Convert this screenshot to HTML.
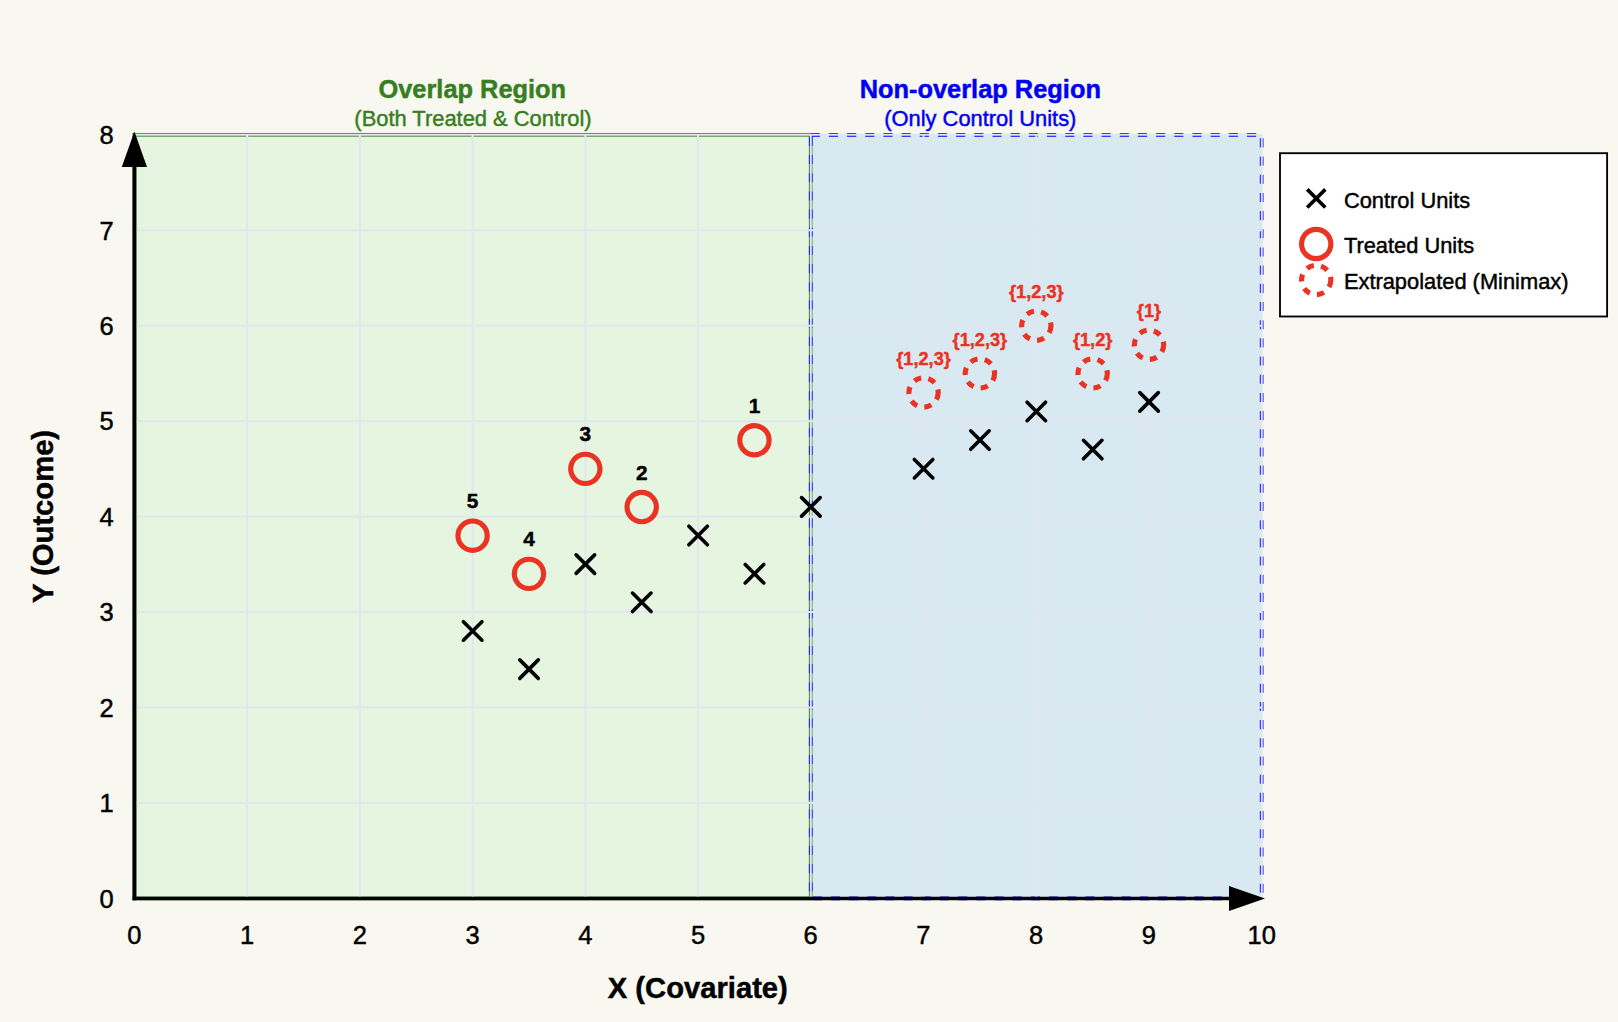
<!DOCTYPE html>
<html lang="en">
<head>
<meta charset="utf-8">
<title>Overlap and Non-overlap Regions</title>
<style>
html,body{margin:0;padding:0;background:#F8F7F0;}
body{width:1618px;height:1022px;overflow:hidden;}
svg{display:block;}
text{fill:currentColor;stroke:currentColor;stroke-width:0.45px;font-family:"Liberation Sans",Arial,Helvetica,sans-serif;}
.b{font-weight:bold;}
</style>
</head>
<body>
<svg width="1618" height="1022" viewBox="0 0 1618 1022">
<rect x="0" y="0" width="1618" height="1022" fill="#F8F7F0"/>
<rect x="134.3" y="134.8" width="676.41" height="763.6" fill="#E6F5E0" stroke="#377E22" stroke-width="3.65"/>
<rect x="810.71" y="134.8" width="450.94" height="763.6" fill="rgba(147,203,244,0.30)" stroke="#0000F5" stroke-width="3.65" stroke-dasharray="9.09 9.09"/>
<g stroke="#E2E6F0" stroke-width="2.0">
<line x1="134.4" y1="134.8" x2="134.4" y2="898.4"/>
<line x1="247.14" y1="134.8" x2="247.14" y2="898.4"/>
<line x1="359.87" y1="134.8" x2="359.87" y2="898.4"/>
<line x1="472.6" y1="134.8" x2="472.6" y2="898.4"/>
<line x1="585.34" y1="134.8" x2="585.34" y2="898.4"/>
<line x1="698.07" y1="134.8" x2="698.07" y2="898.4"/>
<line x1="810.81" y1="134.8" x2="810.81" y2="898.4"/>
<line x1="923.54" y1="134.8" x2="923.54" y2="898.4"/>
<line x1="1036.28" y1="134.8" x2="1036.28" y2="898.4"/>
<line x1="1149.01" y1="134.8" x2="1149.01" y2="898.4"/>
<line x1="1261.75" y1="134.8" x2="1261.75" y2="898.4"/>
<line x1="134.3" y1="898.4" x2="1261.65" y2="898.4"/>
<line x1="134.3" y1="802.95" x2="1261.65" y2="802.95"/>
<line x1="134.3" y1="707.5" x2="1261.65" y2="707.5"/>
<line x1="134.3" y1="612.05" x2="1261.65" y2="612.05"/>
<line x1="134.3" y1="516.6" x2="1261.65" y2="516.6"/>
<line x1="134.3" y1="421.15" x2="1261.65" y2="421.15"/>
<line x1="134.3" y1="325.7" x2="1261.65" y2="325.7"/>
<line x1="134.3" y1="230.25" x2="1261.65" y2="230.25"/>
<line x1="134.3" y1="134.8" x2="1261.65" y2="134.8"/>
</g>
<g stroke="#000" fill="none">
<line x1="134.5" y1="900.15" x2="134.5" y2="160" stroke-width="3.8"/>
<line x1="132.6" y1="898.5" x2="1232" y2="898.5" stroke-width="3.3"/>
</g>
<polygon points="134.4,131.6 121.80000000000001,166.9 147.0,166.9" fill="#000"/>
<polygon points="1265,898.4 1229,885.9 1229,911.1" fill="#000"/>
<g font-size="25.5" color="#000">
<g text-anchor="middle">
<text x="134.3" y="943.7">0</text>
<text x="247.04" y="943.7">1</text>
<text x="359.77" y="943.7">2</text>
<text x="472.5" y="943.7">3</text>
<text x="585.24" y="943.7">4</text>
<text x="697.97" y="943.7">5</text>
<text x="810.71" y="943.7">6</text>
<text x="923.44" y="943.7">7</text>
<text x="1036.18" y="943.7">8</text>
<text x="1148.91" y="943.7">9</text>
<text x="1261.65" y="943.7">10</text>
</g>
<g text-anchor="end">
<text x="113.8" y="907.65">0</text>
<text x="113.8" y="812.2">1</text>
<text x="113.8" y="716.75">2</text>
<text x="113.8" y="621.3">3</text>
<text x="113.8" y="525.85">4</text>
<text x="113.8" y="430.4">5</text>
<text x="113.8" y="334.95">6</text>
<text x="113.8" y="239.5">7</text>
<text x="113.8" y="144.05">8</text>
</g>
</g>
<text class="b" x="697.8" y="997.5" font-size="29.2" text-anchor="middle" color="#000">X (Covariate)</text>
<text class="b" transform="translate(53.3 516.4) rotate(-90)" font-size="29.2" text-anchor="middle" color="#000">Y (Outcome)</text>
<text class="b" x="472.3" y="97.6" font-size="25.4" text-anchor="middle" color="#377E22">Overlap Region</text>
<text x="473" y="125.8" font-size="21.9" text-anchor="middle" color="#377E22">(Both Treated &amp; Control)</text>
<text class="b" x="980.3" y="97.6" font-size="25.4" text-anchor="middle" color="#0000F5">Non-overlap Region</text>
<text x="980.3" y="125.8" font-size="21.9" text-anchor="middle" color="#0000F5">(Only Control Units)</text>
<g stroke="#000" stroke-width="3.6" stroke-linecap="round" fill="none">
<path d="M463.4 621.69 L481.9 640.19 M463.4 640.19 L481.9 621.69"/>
<path d="M519.77 659.87 L538.27 678.37 M519.77 678.37 L538.27 659.87"/>
<path d="M576.14 554.88 L594.64 573.38 M576.14 573.38 L594.64 554.88"/>
<path d="M632.51 593.05 L651.01 611.55 M632.51 611.55 L651.01 593.05"/>
<path d="M688.87 526.24 L707.37 544.74 M688.87 544.74 L707.37 526.24"/>
<path d="M745.24 564.42 L763.74 582.92 M745.24 582.92 L763.74 564.42"/>
<path d="M801.61 497.61 L820.11 516.11 M801.61 516.11 L820.11 497.61"/>
<path d="M914.34 459.42 L932.84 477.92 M914.34 477.92 L932.84 459.42"/>
<path d="M970.71 430.79 L989.21 449.29 M970.71 449.29 L989.21 430.79"/>
<path d="M1027.08 402.16 L1045.58 420.66 M1027.08 420.66 L1045.58 402.16"/>
<path d="M1083.45 440.33 L1101.95 458.83 M1083.45 458.83 L1101.95 440.33"/>
<path d="M1139.81 392.61 L1158.31 411.11 M1139.81 411.11 L1158.31 392.61"/>
</g>
<g stroke="#EA3323" stroke-width="5.15" fill="none">
<circle cx="754.44" cy="440.24" r="14.65"/>
<circle cx="641.71" cy="507.06" r="14.65"/>
<circle cx="585.34" cy="468.87" r="14.65"/>
<circle cx="528.97" cy="573.87" r="14.65"/>
<circle cx="472.6" cy="535.69" r="14.65"/>
</g>
<g font-size="20.8" class="b" text-anchor="middle" color="#000">
<text x="754.44" y="412.74">1</text>
<text x="641.71" y="479.56">2</text>
<text x="585.34" y="441.37">3</text>
<text x="528.97" y="546.37">4</text>
<text x="472.6" y="508.19">5</text>
</g>
<g stroke="#EA3323" stroke-width="5.15" fill="none" stroke-dasharray="7.35 7.35">
<circle cx="923.5400000000001" cy="392.51" r="14.65"/>
<circle cx="979.91" cy="373.42" r="14.65"/>
<circle cx="1036.28" cy="325.7" r="14.65"/>
<circle cx="1092.6499999999999" cy="373.42" r="14.65"/>
<circle cx="1149.01" cy="344.79" r="14.65"/>
</g>
<g font-size="18.2" class="b" text-anchor="middle" color="#EA3323">
<text x="923.5400000000001" y="364.81">{1,2,3}</text>
<text x="979.91" y="345.72">{1,2,3}</text>
<text x="1036.28" y="298.0">{1,2,3}</text>
<text x="1092.6499999999999" y="345.72">{1,2}</text>
<text x="1149.01" y="317.09">{1}</text>
</g>
<rect x="1280" y="153.2" width="327.1" height="163.3" fill="#fff" stroke="#000" stroke-width="1.85"/>
<g stroke="#000" stroke-width="3.6" stroke-linecap="butt" fill="none"><path d="M1307.21 189.37 L1325.33 207.49 M1307.21 207.49 L1325.33 189.37"/></g>
<circle cx="1316.2" cy="243.95" r="14.65" stroke="#EA3323" stroke-width="5.15" fill="none"/>
<circle cx="1316.2" cy="280" r="14.65" stroke="#EA3323" stroke-width="5.15" fill="none" stroke-dasharray="7.35 7.35"/>
<g font-size="21.85" color="#000">
<text x="1343.9" y="207.5">Control Units</text>
<text x="1343.9" y="252.5">Treated Units</text>
<text x="1343.9" y="288.8">Extrapolated (Minimax)</text>
</g>
</svg>
</body>
</html>
